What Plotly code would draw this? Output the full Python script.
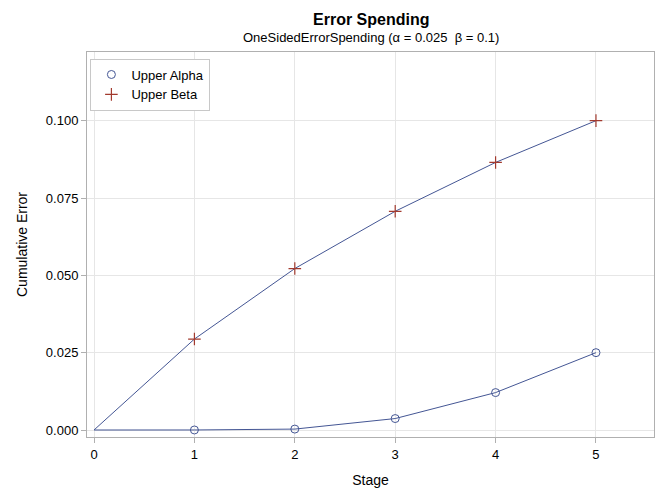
import plotly.graph_objects as go

# cumulative error spent at each stage
stages = [0, 1, 2, 3, 4, 5]
upper_alpha = [0.0, 0.00001, 0.0003, 0.0037, 0.0121, 0.025]
upper_beta = [0.0, 0.0294, 0.0522, 0.0707, 0.0865, 0.100]

y_ticks = [0.0, 0.025, 0.05, 0.075, 0.1]
y_tick_labels = ["0.000", "0.025", "0.050", "0.075", "0.100"]

line_color = "#445694"
beta_color = "#A23A2E"
font_family = "Arial, Liberation Sans, sans-serif"

alpha_marker = dict(symbol="circle-open", size=8, color=line_color, line=dict(width=1))
beta_marker = dict(symbol="cross-thin-open", size=9, color=beta_color,
                   line=dict(width=1.2, color=beta_color))

fig = go.Figure()

# connecting lines start at stage 0, markers only from stage 1
fig.add_trace(go.Scatter(x=stages, y=upper_alpha, mode="lines",
                         line=dict(color=line_color, width=1), showlegend=False, hoverinfo="skip"))
fig.add_trace(go.Scatter(x=stages, y=upper_beta, mode="lines",
                         line=dict(color=line_color, width=1), showlegend=False, hoverinfo="skip"))
fig.add_trace(go.Scatter(x=stages[1:], y=upper_alpha[1:], mode="markers", name="Upper Alpha",
                         marker=alpha_marker))
fig.add_trace(go.Scatter(x=stages[1:], y=upper_beta[1:], mode="markers", name="Upper Beta",
                         marker=beta_marker))

# the page body adds an 8px offset, so the figure is 8px smaller than the window
W, H = 658, 492
ml, mr, mt, mb = 79, 12, 44, 63
pw, ph = W - ml - mr, H - mt - mb

fig.update_layout(
    width=W, height=H,
    margin=dict(l=ml, r=mr, t=mt, b=mb),
    paper_bgcolor="white", plot_bgcolor="white",
    font=dict(family=font_family, size=13, color="#000000"),
    showlegend=True,
    legend=dict(x=0.006, y=0.983, xanchor="left", yanchor="top",
                bordercolor="#C8C8C8", borderwidth=1, bgcolor="white",
                font=dict(size=13), tracegroupgap=0, itemwidth=30),
    xaxis=dict(range=[-0.07, 5.578], tickvals=stages, ticks="outside", ticklen=5,
               tickcolor="#B0B0B0", showgrid=True, gridcolor="#E6E6E6", zeroline=False,
               showline=True, linecolor="#B0B0B0", mirror=True,
               title=dict(text="Stage", font=dict(size=14), standoff=14)),
    yaxis=dict(range=[-0.00226, 0.1222], tickvals=y_ticks, ticktext=y_tick_labels,
               ticks="outside", ticklen=5, tickcolor="#B0B0B0", showgrid=True,
               gridcolor="#E6E6E6", zeroline=False, showline=True, linecolor="#B0B0B0",
               mirror=True, title=dict(text="Cumulative Error", font=dict(size=14), standoff=14)),
    annotations=[
        dict(text="<b>Error Spending</b>", x=0.5, y=1 + (mt - 12) / ph,
             xref="paper", yref="paper", showarrow=False, font=dict(size=16),
             xanchor="center", yanchor="middle"),
        dict(text="OneSidedErrorSpending (α = 0.025 &nbsp;β = 0.1)", x=0.5,
             y=1 + (mt - 30) / ph, xref="paper", yref="paper", showarrow=False,
             font=dict(size=13), xanchor="center", yanchor="middle"),
    ],
)

fig.write_html("out.html")
